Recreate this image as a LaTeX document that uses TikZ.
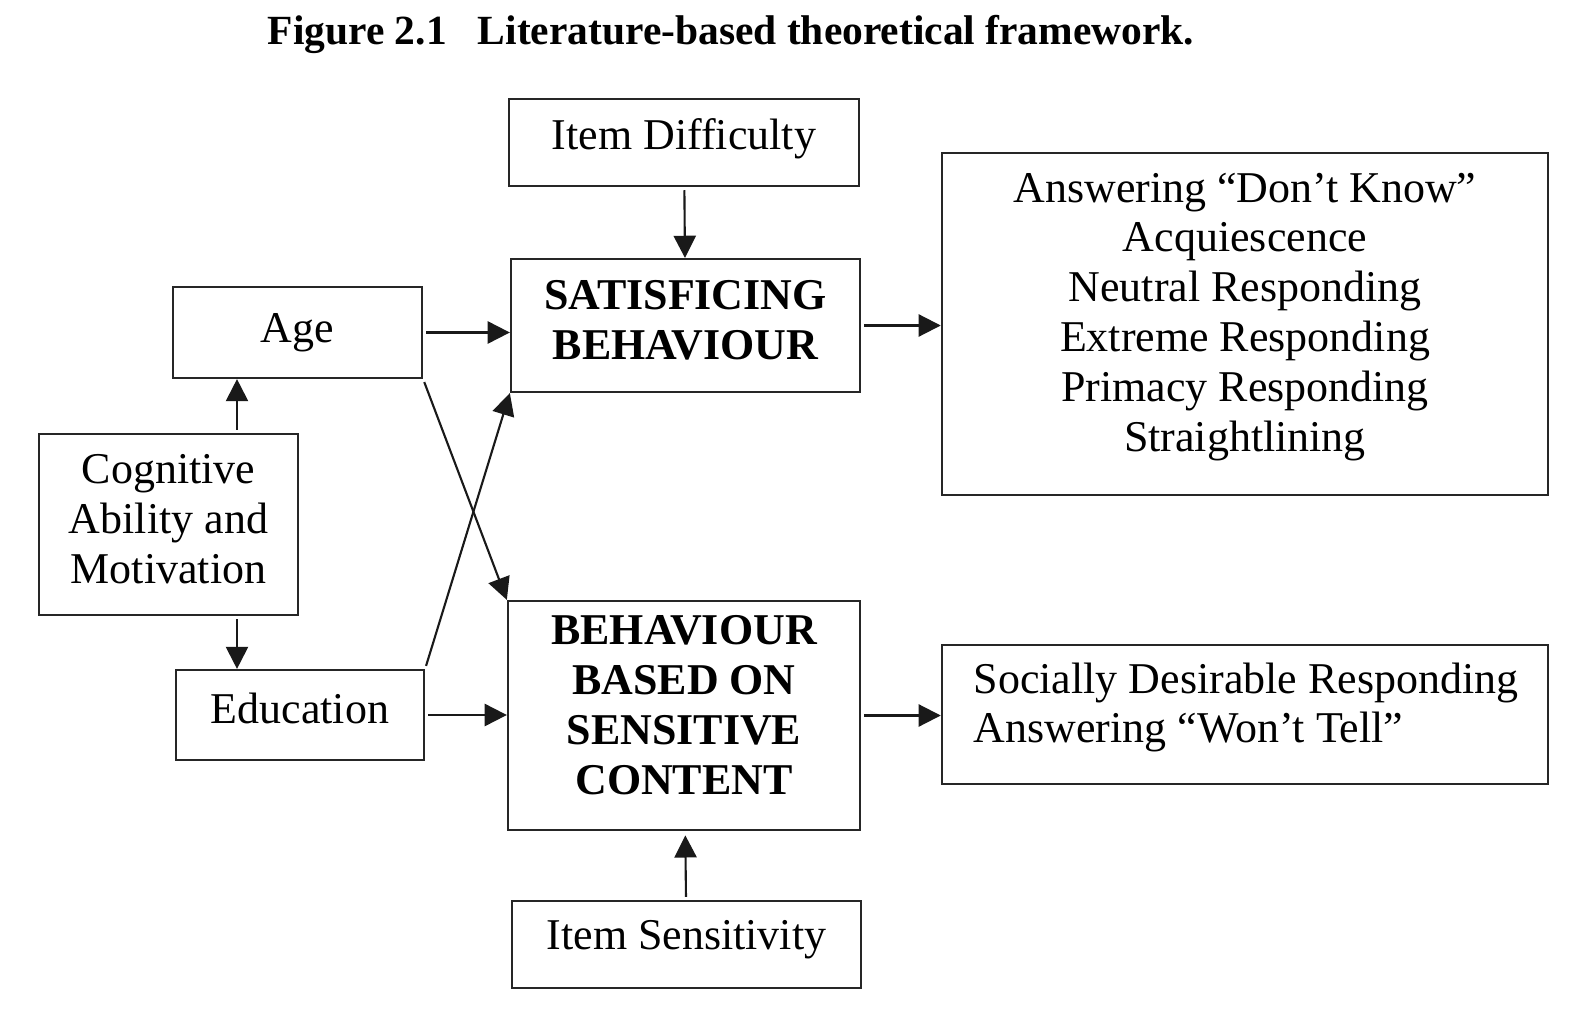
\documentclass[tikz,border=0pt]{standalone}
\usepackage{fontspec}
\setmainfont{Liberation Serif}
\usetikzlibrary{arrows.meta,positioning}
\tikzset{
  box/.style={draw=black!85, line width=0.6pt, rectangle, inner sep=0pt},
  txt/.style={align=center, inner sep=0pt, font=\fontsize{12.5}{14.2}\selectfont},
  btxt/.style={txt, font=\fontsize{12.5}{14.2}\selectfont\bfseries},
  heading/.style={inner sep=0pt, font=\fontsize{11.8}{13}\selectfont\bfseries},
  arr/.style={-{Triangle[length=6.3pt,width=6.3pt]}, line width=0.6pt, draw=black!90, shorten <=0.9pt}
}
\begin{document}
\begin{tikzpicture}[x=0.01cm, y=-0.01cm]
\useasboundingbox (0,0) rectangle (1581,1009);
\node[heading] (ttl) at (731,34) {Figure 2.1\hspace{0.75em}Literature-based theoretical framework.};
% boxes
\node[box, minimum width=3.50cm, minimum height=0.87cm] (diff) at (684,142.5) {};
\node[box, minimum width=3.49cm, minimum height=1.33cm] (satis) at (685.5,325.5) {};
\node[box, minimum width=6.06cm, minimum height=3.42cm] (resp) at (1245,324) {};
\node[box, minimum width=2.49cm, minimum height=0.91cm] (age) at (297.5,332.5) {};
\node[box, minimum width=2.59cm, minimum height=1.81cm] (cogn) at (168.5,524.5) {};
\node[box, minimum width=2.48cm, minimum height=0.90cm] (educ) at (300,715) {};
\node[box, minimum width=3.52cm, minimum height=2.29cm] (sens) at (684,715.5) {};
\node[box, minimum width=6.06cm, minimum height=1.39cm] (social) at (1245,714.5) {};
\node[box, minimum width=3.49cm, minimum height=0.87cm] (item) at (686.5,944.5) {};
% texts
\node[txt] (diffT) at ([yshift=1.2pt]diff) {Item Difficulty};
\node[btxt] (satisT) at ([yshift=1.4pt]satis) {SATISFICING\\BEHAVIOUR};
\node[txt] (respT) at ([yshift=2pt]resp) {Answering “Don’t Know”\\Acquiescence\\Neutral Responding\\Extreme Responding\\Primacy Responding\\Straightlining};
\node[txt] (ageT) at (age) {Age};
\node[txt] (cognT) at ([yshift=1.4pt]cogn) {Cognitive\\Ability and\\Motivation};
\node[txt] (educT) at ([yshift=2pt]educ) {Education};
\node[btxt] (sensT) at ([yshift=2.9pt]sens) {BEHAVIOUR\\BASED ON\\SENSITIVE\\CONTENT};
\node[txt, align=left, anchor=west] (socialT) at ([yshift=2pt]973,714.5) {Socially Desirable Responding\\Answering “Won’t Tell”};
\node[txt] (itemT) at ([yshift=1.4pt]item) {Item Sensitivity};
% arrows
\coordinate (cx) at (237,0);
\draw[arr] (diff) -- (satis);
\draw[arr] (age.east) -- (age.east -| satis.west);
\draw[arr] (satis.east) -- (satis.east -| resp.west);
\draw[arr] (cogn.north -| cx) -- (age.south -| cx);
\draw[arr] (cogn.south -| cx) -- (educ.north -| cx);
\draw[arr] (age.south east) -- (sens.north west);
\draw[arr] (educ.north east) -- (satis.south west);
\draw[arr] (educ.east) -- (educ.east -| sens.west);
\draw[arr] (sens.east) -- (sens.east -| social.west);
\draw[arr, shorten >=1.2pt] (item) -- (sens);
\end{tikzpicture}
\end{document}
